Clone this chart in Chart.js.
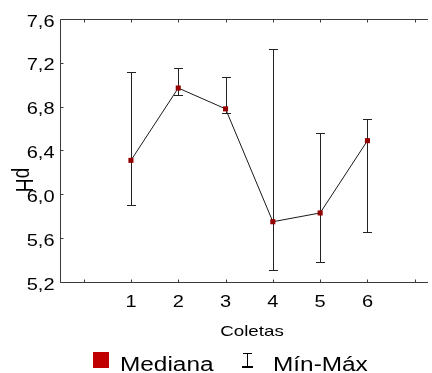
<!DOCTYPE html>
<html>
<head>
<meta charset="utf-8">
<script src="https://cdn.jsdelivr.net/npm/chart.js@4/dist/chart.umd.min.js"></script>
<style>
  html, body { margin: 0; padding: 0; background: #fff; overflow: hidden; }
  #wrap { position: relative; width: 432px; height: 373px; }
</style>
</head>
<body>
<div id="wrap"><canvas id="phChart" width="432" height="373"></canvas></div>
<script>
  // ---- Data ------------------------------------------------
  const COLETAS = [1, 2, 3, 4, 5, 6];
  const MEDIANA = [6.31, 6.97, 6.78, 5.75, 5.83, 6.49];
  const MINIMO  = [5.90, 6.91, 6.74, 5.31, 5.38, 5.66];
  const MAXIMO  = [7.12, 7.15, 7.07, 7.33, 6.56, 6.69];
  const X_TICKS = [0, 1, 2, 3, 4, 5, 6, 7];
  const Y_TICKS = [5.2, 5.6, 6.0, 6.4, 6.8, 7.2, 7.6];

  // the source picture is stretched horizontally, so text is too
  const SX = 1.25;
  const FONT = '"Liberation Sans", Arial, sans-serif';

  function stretchedText(ctx, txt, x, y, size, align) {
    ctx.save();
    ctx.font = size + 'px ' + FONT;
    ctx.textBaseline = 'alphabetic';
    ctx.textAlign = 'left';
    const w = ctx.measureText(txt).width * SX;
    const left = align === 'center' ? x - w / 2 : align === 'right' ? x - w : x;
    ctx.translate(left, y);
    ctx.scale(SX, 1);
    ctx.fillStyle = '#000';
    ctx.fillText(txt, 0, 0);
    ctx.restore();
  }

  const fmt = (v) => v.toFixed(1).replace('.', ',');

  // error bars drawn under the median markers
  const errorBars = {
    id: 'errorBars',
    beforeDatasetsDraw(chart) {
      const { ctx, scales: { x, y } } = chart;
      ctx.save();
      ctx.strokeStyle = '#222';
      ctx.lineWidth = 1;
      COLETAS.forEach((c, i) => {
        const px = Math.round(x.getPixelForValue(c)) + 0.5;
        const yMin = Math.round(y.getPixelForValue(MINIMO[i])) + 0.5;
        const yMax = Math.round(y.getPixelForValue(MAXIMO[i])) + 0.5;
        ctx.beginPath();
        ctx.moveTo(px, yMin); ctx.lineTo(px, yMax);
        ctx.moveTo(px - 4.5, yMin); ctx.lineTo(px + 4.5, yMin);
        ctx.moveTo(px - 4.5, yMax); ctx.lineTo(px + 4.5, yMax);
        ctx.stroke();
      });
      ctx.restore();
    },
  };

  // frame, inward ticks, tick labels, titles, legend
  const frame = {
    id: 'frame',
    afterDraw(chart) {
      const { ctx, chartArea: a, scales: { x, y } } = chart;
      const L = Math.round(a.left) + 0.5, T = Math.round(a.top) + 0.5, B = Math.round(a.bottom) + 0.5;
      ctx.save();
      ctx.strokeStyle = '#3a3a3a';
      ctx.lineWidth = 1;
      ctx.beginPath();
      ctx.moveTo(a.right, T); ctx.lineTo(L, T); ctx.lineTo(L, B); ctx.lineTo(a.right, B);
      X_TICKS.forEach((v) => {
        const px = Math.round(x.getPixelForValue(v)) + 0.5;
        ctx.moveTo(px, T); ctx.lineTo(px, T + 3);
        ctx.moveTo(px, B); ctx.lineTo(px, B - 3);
      });
      Y_TICKS.forEach((v) => {
        const py = Math.round(y.getPixelForValue(v)) + 0.5;
        ctx.moveTo(L, py); ctx.lineTo(L + 3, py);
      });
      ctx.stroke();
      ctx.restore();

      Y_TICKS.forEach((v) => stretchedText(ctx, fmt(v), L - 6, y.getPixelForValue(v) + 7.5, 16, 'right'));
      COLETAS.forEach((c) => stretchedText(ctx, String(c), x.getPixelForValue(c), B + 24, 16, 'center'));

      // x title, centred on the full (clipped) axis
      stretchedText(ctx, 'Coletas', 252, 336, 15, 'center');

      // y title, rotated clockwise
      ctx.save();
      ctx.translate(16, 180);
      ctx.scale(SX, 1);
      ctx.rotate(Math.PI / 2);
      ctx.font = '19px ' + FONT;
      ctx.textAlign = 'center';
      ctx.textBaseline = 'alphabetic';
      ctx.fillStyle = '#000';
      ctx.fillText('pH', 0, 0);
      ctx.restore();

      // legend
      ctx.save();
      ctx.fillStyle = '#c00000';
      ctx.fillRect(93, 352, 16, 16);
      ctx.strokeStyle = '#000';
      ctx.lineWidth = 1;
      ctx.beginPath();
      ctx.moveTo(247.5, 353.5); ctx.lineTo(247.5, 367);
      ctx.moveTo(243, 353.5); ctx.lineTo(252, 353.5);
      ctx.stroke();
      ctx.lineWidth = 2;
      ctx.beginPath();
      ctx.moveTo(242, 367); ctx.lineTo(253, 367);
      ctx.stroke();
      ctx.restore();
      stretchedText(ctx, 'Mediana', 120, 371, 19.5, 'left');
      stretchedText(ctx, 'Mín-Máx', 273, 371, 19.5, 'left');
    },
  };

  new Chart(document.getElementById('phChart'), {
    type: 'line',
    data: {
      datasets: [{
        label: 'Mediana',
        data: COLETAS.map((c, i) => ({ x: c, y: MEDIANA[i] })),
        borderColor: '#1a1a1a',
        borderWidth: 1,
        pointStyle: 'rect',
        pointRadius: 3.6,
        pointBackgroundColor: '#950000',
        pointBorderColor: '#950000',
        pointBorderWidth: 0,
        tension: 0,
        fill: false,
      }],
    },
    options: {
      responsive: false,
      animation: false,
      devicePixelRatio: 1,
      layout: { padding: { left: 60, top: 19, right: 0, bottom: 91 } },
      scales: {
        x: { type: 'linear', display: false, min: -0.5, max: 7.28 },
        y: { type: 'linear', display: false, min: 5.2, max: 7.6 },
      },
      plugins: { legend: { display: false }, tooltip: { enabled: false } },
    },
    plugins: [errorBars, frame],
  });
</script>
</body>
</html>
